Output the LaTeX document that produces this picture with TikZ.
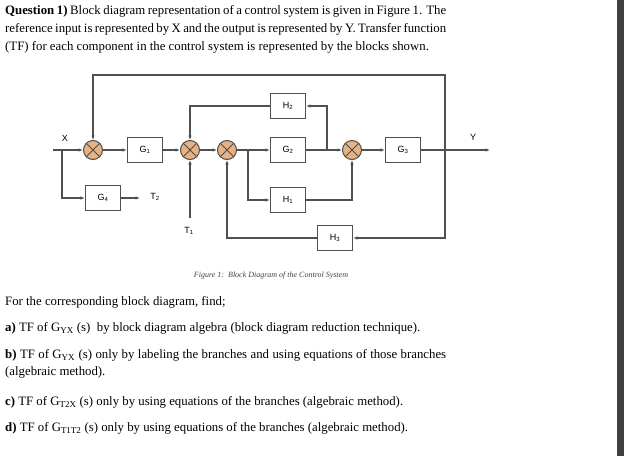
\documentclass[tikz,border=0pt]{standalone}
\usepackage{fontspec}
\setmainfont{Liberation Serif}
\newfontfamily\dsans{Liberation Sans}
\usetikzlibrary{arrows.meta}
\definecolor{sumfill}{HTML}{E6B283}
\definecolor{ln}{HTML}{505050}
\begin{document}
\begin{tikzpicture}[x=1pt,y=-1pt,
  blk/.style={draw=ln,line width=1.3pt,fill=white,minimum width=35pt,minimum height=25pt,inner sep=0pt,font=\dsans\small},
  sum/.style={draw=black!70,fill=sumfill,circle,minimum size=19pt,inner sep=0pt,line width=1pt,
     path picture={\draw[black!70,line width=0.9pt] (path picture bounding box.north west)--(path picture bounding box.south east) (path picture bounding box.north east)--(path picture bounding box.south west);}},
  w/.style={draw=ln,line width=1.2pt},
  a/.style={w,-{Latex[length=4.5pt,width=3.5pt]}},
  lbl/.style={font=\dsans\small}]
\useasboundingbox (0,0) rectangle (624,456);
\fill[black!75] (617,0) rectangle (624,456);
\node[anchor=north west,text width=441pt,align=justify,inner sep=0pt,font=\fontsize{12.8}{18}\selectfont] (head) at (5,5)
 {\textbf{Question 1)} Block diagram representation of a control system is given in Figure 1. The reference input is represented by X and the output is represented by Y. Transfer function (TF) for each component in the control system is represented by the blocks shown.};
% diagram
\node[sum] (s1) at (93,150) {};
\node[blk] (g1) at (145,150) {G\textsubscript{1}};
\node[sum] (s2) at (190,150) {};
\node[sum] (s3) at (227,150) {};
\node[blk] (g2) at (288,150) {G\textsubscript{2}};
\node[sum] (s4) at (352,150) {};
\node[blk] (g3) at (403,150) {G\textsubscript{3}};
\node[blk] (h2) at (288,106) {H\textsubscript{2}};
\node[blk] (h1) at (288,200) {H\textsubscript{1}};
\node[blk] (g4) at (103,198) {G\textsubscript{4}};
\node[blk] (h3) at (335,238) {H\textsubscript{3}};
\coordinate (xin) at (53,150);
\coordinate (xb) at (62,150);
\coordinate (yout) at (490,150);
\coordinate (fb) at (445,150);
\coordinate (jb) at (327,150);
\coordinate (br) at (248,150);
\coordinate (t1) at (190,218);
\coordinate (t2) at (140,198);
\node[lbl] (xl) at (65,138) {X};
\node[lbl] (yl) at (473,137) {Y};
\node[lbl] (t1l) at (189,231) {T\textsubscript{1}};
\node[lbl] (t2l) at (155,197) {T\textsubscript{2}};
\draw[a] (xin) -- (s1);
\draw[a] (s1) -- (g1);
\draw[a] (g1) -- (s2);
\draw[a] (s2) -- (s3);
\draw[a] (s3) -- (g2);
\draw[a] (g2) -- (s4);
\draw[a] (s4) -- (g3);
\draw[a] (g3) -- (yout);
\draw[a] (xb) |- (g4);
\draw[a] (g4) -- (t2);
\draw[a] (t1) -- (s2);
\draw[a] (br) |- (h1);
\draw[a] (h1) -| (s4);
\draw[a] (jb) |- (h2);
\draw[a] (h2) -| (s2);
\draw[a] (fb) |- (h3);
\draw[a] (h3) -| (s3);
\draw[a] (fb) |- (93,75) -- (s1);
\node[anchor=center,font=\fontsize{8}{9}\selectfont\itshape,text=black!75] (cap) at (271,276) {Figure 1:\ \ Block Diagram of the Control System};
\begin{scope}[every node/.style={anchor=north west,inner sep=0pt,font=\fontsize{12.8}{17}\selectfont}]
\node (q0) at (5,296) {For the corresponding block diagram, find;};
\node (qa) at (5,322) {\textbf{a)} TF of G\textsubscript{YX} (s)\ \ by block diagram algebra (block diagram reduction technique).};
\node[text width=441pt,align=justify] (qb) at (5,349) {\textbf{b)} TF of G\textsubscript{YX} (s) only by labeling the branches and using equations of those branches (algebraic method).};
\node (qc) at (5,396) {\textbf{c)} TF of G\textsubscript{T2X} (s) only by using equations of the branches (algebraic method).};
\node (qd) at (5,422) {\textbf{d)} TF of G\textsubscript{T1T2} (s) only by using equations of the branches (algebraic method).};
\end{scope}
\end{tikzpicture}
\end{document}
